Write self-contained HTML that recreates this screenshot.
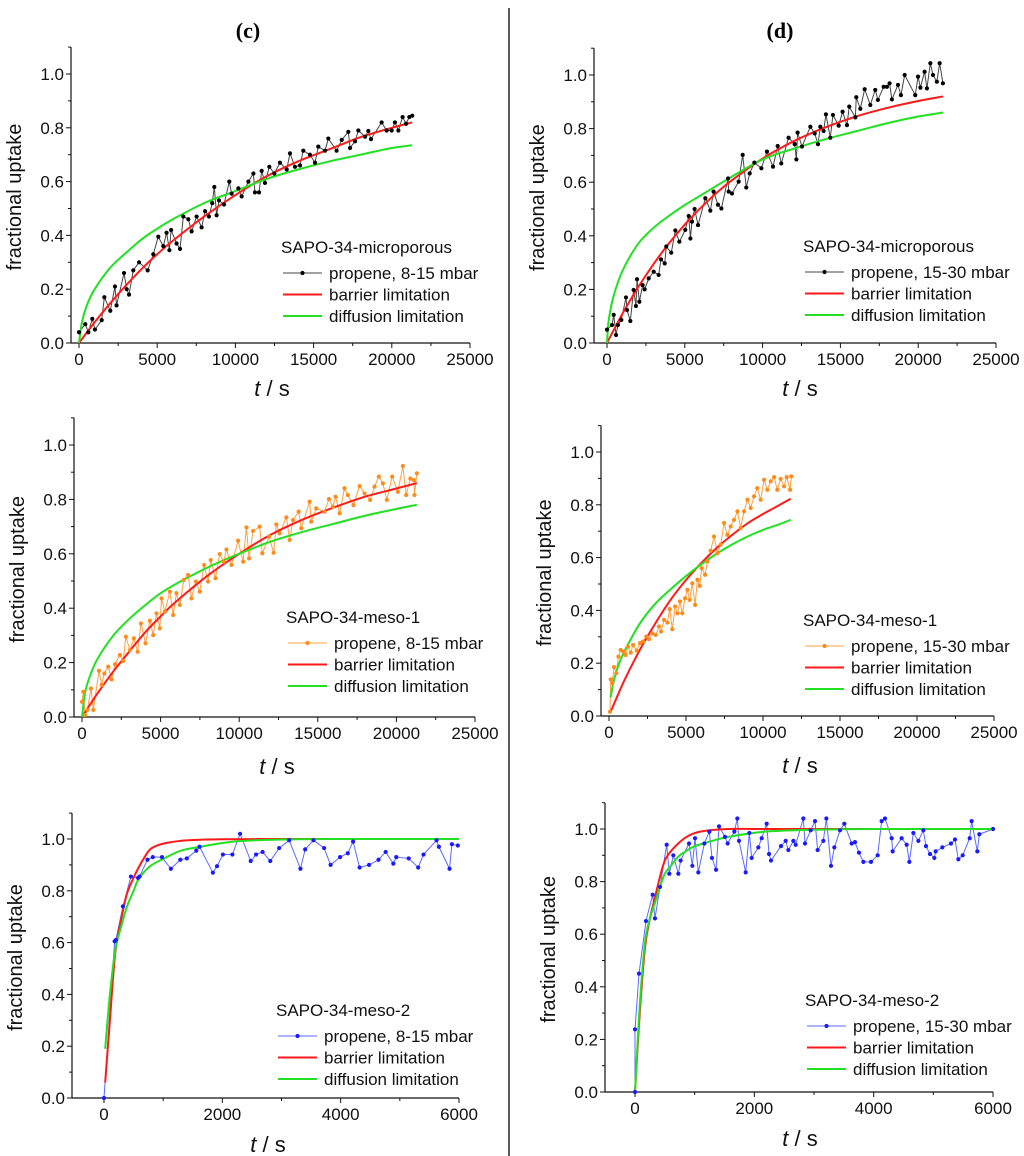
<!DOCTYPE html>
<html><head><meta charset="utf-8"><style>
html,body{margin:0;padding:0;background:#fff;}
svg{display:block;font-family:"Liberation Sans",Arial,sans-serif;}
</style></head><body>
<svg id="fig" width="1024" height="1156" viewBox="0 0 1024 1156">
<text x="248" y="38" text-anchor="middle" font-family="Liberation Serif,serif" font-weight="bold" font-size="22">(c)</text>
<text x="780" y="38" text-anchor="middle" font-family="Liberation Serif,serif" font-weight="bold" font-size="22">(d)</text>
<line x1="509" y1="8" x2="509" y2="1156" stroke="#222" stroke-width="1.5"/>
</svg>
<script>
// ---------- Panel c-top: SAPO-34-microporous 8-15 mbar ----------
const p1DataT=[0,400,600,850,1020,1450,1620,2000,2300,2400,2880,3050,3200,3470,3840,4390,4750,5070,5390,5600,5780,5890,6240,6460,6670,6990,7200,7520,7840,8060,8310,8520,8650,8800,8950,9270,9610,9760,10190,10400,10830,11150,11250,11510,11680,11890,12170,12490,12850,13280,13490,13810,14130,14340,14770,15090,15300,15730,15940,16470,16800,17220,17330,17650,17860,18290,18500,18670,19350,19670,19990,20200,20420,20690,20910,21120,21310];
const p1DataY=[0.04,0.07,0.04,0.09,0.05,0.085,0.17,0.12,0.21,0.14,0.26,0.2,0.18,0.27,0.3,0.27,0.33,0.395,0.36,0.41,0.345,0.42,0.37,0.35,0.47,0.46,0.415,0.47,0.43,0.49,0.47,0.52,0.58,0.475,0.53,0.515,0.6,0.555,0.575,0.545,0.6,0.63,0.56,0.56,0.64,0.595,0.655,0.63,0.67,0.645,0.705,0.655,0.66,0.715,0.7,0.67,0.73,0.715,0.76,0.715,0.755,0.785,0.725,0.75,0.79,0.767,0.788,0.758,0.82,0.79,0.79,0.82,0.79,0.84,0.815,0.84,0.845];
const p1RedT=[0,1000,2000,3000,4000,5000,6000,8000,10000,12000,14000,16000,18000,20000,21300];
const p1RedY=[0,0.077,0.148,0.214,0.275,0.33,0.38,0.47,0.55,0.62,0.675,0.72,0.765,0.8,0.82];
const p1GreenT=[0,200,500,1000,2000,3000,4000,5000,6000,8000,10000,12000,14000,16000,18000,20000,21300];
const p1GreenY=[0,0.08,0.14,0.2,0.28,0.335,0.385,0.425,0.46,0.52,0.565,0.61,0.645,0.675,0.7,0.725,0.735];

// ---------- Panel c-mid: SAPO-34-meso-1 8-15 mbar ----------
const p2DataT=[0,85,190,340,570,720,1080,1250,1420,1670,1880,2100,2410,2620,2790,3050,3300,3540,3750,4040,4320,4530,4740,4950,5060,5270,5590,5800,6010,6220,6480,6750,6960,7240,7490,7770,8020,8190,8490,8760,9020,9190,9510,9930,10250,10460,10630,10880,11300,11470,11900,12190,12360,12570,13000,13210,13420,13780,13950,14480,14580,14900,15430,15710,15960,16130,16390,16700,16910,17270,17660,17970,18330,18610,18880,19140,19390,19730,20090,20410,20620,20890,21110,21150,21300];
const p2DataY=[0.056,0.093,0.007,0.026,0.105,0.026,0.17,0.118,0.16,0.185,0.138,0.194,0.228,0.206,0.295,0.246,0.289,0.24,0.344,0.271,0.354,0.301,0.381,0.326,0.436,0.387,0.461,0.375,0.455,0.412,0.504,0.522,0.436,0.498,0.461,0.559,0.498,0.577,0.51,0.599,0.571,0.616,0.559,0.648,0.571,0.697,0.583,0.684,0.7,0.602,0.663,0.604,0.708,0.675,0.734,0.651,0.724,0.755,0.694,0.792,0.718,0.767,0.755,0.801,0.773,0.81,0.749,0.841,0.816,0.779,0.849,0.822,0.798,0.847,0.884,0.859,0.798,0.884,0.828,0.923,0.816,0.877,0.871,0.816,0.896];
const p2RedT=[0,1000,2000,3000,4000,5000,6000,8000,10000,12000,14000,16000,18000,20000,21300];
const p2RedY=[0,0.088,0.168,0.24,0.31,0.37,0.425,0.52,0.6,0.67,0.725,0.77,0.81,0.84,0.86];
const p2GreenT=[0,200,500,1000,2000,3000,4000,5000,6000,8000,10000,12000,14000,16000,18000,20000,21300];
const p2GreenY=[0,0.09,0.15,0.215,0.3,0.36,0.41,0.455,0.49,0.55,0.6,0.645,0.68,0.71,0.74,0.765,0.78];

// ---------- Panel c-bottom: SAPO-34-meso-2 8-15 mbar ----------
const p3DataT=[0,180,200,320,455,575,600,735,825,980,1130,1290,1400,1560,1615,1840,1910,2010,2170,2300,2480,2570,2680,2810,2960,3130,3320,3400,3540,3720,3830,3990,4120,4210,4320,4480,4640,4760,4890,4940,5150,5310,5400,5620,5660,5840,5880,5980];
const p3DataY=[0,0.605,0.61,0.74,0.855,0.85,0.855,0.92,0.93,0.93,0.885,0.92,0.925,0.955,0.97,0.87,0.895,0.94,0.94,1.02,0.915,0.94,0.95,0.915,0.965,0.995,0.885,0.96,0.995,0.965,0.9,0.93,0.945,0.99,0.89,0.9,0.92,0.95,0.905,0.93,0.925,0.89,0.94,0.995,0.97,0.885,0.98,0.975];
const p3RedT=[20,100,190,300,390,500,585,700,780,900,1060,1300,1625,2000,3000,4000,6000];
const p3RedY=[0.06,0.3,0.56,0.7,0.79,0.85,0.89,0.935,0.96,0.975,0.985,0.993,0.997,0.999,1,1,1];
const p3GreenT=[20,100,190,300,390,500,585,780,1060,1300,1625,2190,3000,4000,6000];
const p3GreenY=[0.19,0.4,0.57,0.67,0.74,0.8,0.845,0.895,0.93,0.955,0.97,0.99,0.998,1,1];

// ---------- Panel d-top: SAPO-34-microporous 15-30 mbar ----------
const p4DataT=[0,320,430,580,705,920,1220,1285,1500,1710,1860,1930,2080,2290,2420,2680,3000,3320,3470,3710,3810,4130,4390,4650,5030,5250,5360,5460,5630,5850,6320,6640,6850,7130,7350,7780,7820,8030,8460,8720,8950,9170,9470,9920,10280,10670,10970,11200,11670,12060,12170,12250,12530,13070,13350,13560,13710,13920,14070,14350,14520,14890,15140,15420,15570,15960,16020,16280,16560,16920,17240,17410,17780,17990,18160,18310,18700,18890,19130,19810,19990,20140,20410,20560,20780,20950,21200,21380,21590];
const p4DataY=[0.05,0.067,0.105,0.03,0.067,0.086,0.17,0.123,0.082,0.198,0.138,0.238,0.154,0.216,0.2,0.241,0.266,0.254,0.312,0.297,0.36,0.337,0.42,0.378,0.422,0.474,0.39,0.453,0.5,0.44,0.54,0.494,0.565,0.516,0.502,0.614,0.565,0.558,0.602,0.702,0.58,0.633,0.673,0.652,0.714,0.658,0.735,0.67,0.766,0.742,0.685,0.785,0.733,0.807,0.782,0.742,0.807,0.791,0.853,0.766,0.851,0.811,0.863,0.813,0.882,0.842,0.917,0.874,0.947,0.888,0.944,0.907,0.956,0.956,0.969,0.909,0.963,0.925,1.0,0.925,0.994,0.953,1.012,0.95,1.044,1.0,0.975,1.044,0.969];
const p4RedT=[0,1000,2000,3000,4000,5000,6000,7000,8000,10000,12000,14000,16000,18000,20000,21600];
const p4RedY=[0,0.11,0.208,0.295,0.373,0.442,0.503,0.558,0.606,0.688,0.753,0.804,0.845,0.877,0.903,0.92];
const p4GreenT=[0,100,400,1000,2000,3000,4000,5000,6000,8000,10000,12000,14000,16000,18000,20000,21600];
const p4GreenY=[0,0.08,0.17,0.27,0.37,0.43,0.475,0.515,0.55,0.62,0.685,0.725,0.76,0.79,0.82,0.845,0.86];

// ---------- Panel d-mid: SAPO-34-meso-1 15-30 mbar ----------
const p5DataT=[65,110,220,325,475,610,760,930,1080,1235,1410,1560,1800,2015,2210,2420,2600,2815,3030,3250,3380,3570,3790,3940,4110,4290,4440,4610,4760,4940,5090,5240,5410,5590,5740,5890,6020,6240,6390,6600,6820,7040,7250,7470,7690,7900,8120,8340,8550,8770,8990,9200,9420,9630,9850,10070,10280,10500,10720,10930,11150,11370,11540,11760,11840];
const p5DataY=[0.016,0.139,0.124,0.185,0.162,0.225,0.25,0.244,0.231,0.263,0.24,0.269,0.248,0.276,0.282,0.301,0.291,0.313,0.307,0.339,0.32,0.364,0.354,0.405,0.329,0.415,0.389,0.434,0.389,0.446,0.478,0.44,0.503,0.421,0.516,0.493,0.56,0.535,0.585,0.626,0.68,0.617,0.649,0.731,0.686,0.718,0.743,0.775,0.712,0.775,0.819,0.788,0.832,0.863,0.819,0.895,0.857,0.889,0.905,0.857,0.898,0.87,0.905,0.857,0.908];
const p5RedT=[100,1000,2000,3000,4000,5000,6000,7000,8000,9000,10000,11000,11800];
const p5RedY=[0.015,0.135,0.25,0.35,0.44,0.515,0.58,0.637,0.686,0.73,0.765,0.797,0.823];
const p5GreenT=[100,300,600,1000,2000,3000,4000,5000,6000,7000,8000,9000,10000,11000,11800];
const p5GreenY=[0.07,0.13,0.19,0.245,0.35,0.425,0.48,0.53,0.575,0.615,0.65,0.68,0.705,0.725,0.743];

// ---------- Panel d-bottom: SAPO-34-meso-2 15-30 mbar ----------
const p6DataT=[0,0,67,184,296,335,419,531,575,642,726,765,905,961,1006,1061,1162,1246,1290,1358,1408,1508,1553,1665,1715,1743,1855,1916,1955,2067,2123,2207,2246,2279,2447,2525,2570,2654,2693,2821,2849,2944,3017,3061,3156,3207,3285,3341,3436,3508,3631,3687,3754,3827,3955,4067,4134,4190,4302,4318,4469,4553,4598,4665,4749,4832,4877,4944,5017,5039,5151,5296,5363,5419,5492,5609,5642,5737,5771,6000];
const p6DataY=[0,0.238,0.45,0.65,0.75,0.66,0.78,0.94,0.83,0.9,0.83,0.88,0.945,0.86,0.965,0.835,0.945,0.99,0.89,0.845,1.01,0.97,0.945,0.99,1.04,0.955,0.835,0.985,0.89,0.93,0.965,1.02,0.905,0.88,0.935,0.955,0.92,0.955,0.94,1.04,0.945,0.995,1.03,0.92,0.955,1.04,0.86,0.93,0.995,1.02,0.945,0.95,0.91,0.875,0.875,0.9,1.03,1.04,0.965,0.915,0.965,0.94,0.875,0.985,0.955,0.995,0.935,0.905,0.89,0.915,0.93,0.945,0.96,0.885,0.9,0.965,1.03,0.915,0.98,1.0];
const p6RedT=[0,80,168,250,335,420,500,600,725,850,1005,1200,1565,2000,3000,6000];
const p6RedY=[0,0.3,0.55,0.66,0.74,0.82,0.88,0.915,0.945,0.968,0.985,0.994,1.0,1,1,1];
const p6GreenT=[0,80,168,250,335,420,500,600,725,850,1005,1300,1565,2180,3000,4000,6000];
const p6GreenY=[0,0.33,0.57,0.66,0.72,0.78,0.83,0.86,0.895,0.915,0.935,0.955,0.97,0.99,0.997,1,1];

const yTicks=[0,0.2,0.4,0.6,0.8,1.0];
const yTickLabels=["0.0","0.2","0.4","0.6","0.8","1.0"];
const xTicksLong=[0,5000,10000,15000,20000,25000];
const xTicksShort=[0,2000,4000,6000];

const NS='http://www.w3.org/2000/svg';
const svg=document.getElementById('fig');
function mk(tag,attrs,parent){const e=document.createElementNS(NS,tag);for(const k in attrs)e.setAttribute(k,attrs[k]);(parent||svg).appendChild(e);return e;}

function smoothPath(pts){
  let d='M'+pts[0][0].toFixed(2)+','+pts[0][1].toFixed(2);
  for(let i=0;i<pts.length-1;i++){
    const p0=pts[Math.max(i-1,0)],p1=pts[i],p2=pts[i+1],p3=pts[Math.min(i+2,pts.length-1)];
    const c1x=p1[0]+(p2[0]-p0[0])/6,c1y=p1[1]+(p2[1]-p0[1])/6;
    const c2x=p2[0]-(p3[0]-p1[0])/6,c2y=p2[1]-(p3[1]-p1[1])/6;
    d+='C'+c1x.toFixed(2)+','+c1y.toFixed(2)+' '+c2x.toFixed(2)+','+c2y.toFixed(2)+' '+p2[0].toFixed(2)+','+p2[1].toFixed(2);
  }
  return d;
}

function panel(c){
  const g=mk('g',{});
  
  
  const xs=v=>c.px0+(v-0)*(c.px1-c.px0)/(c.xmaxTick);
  const ys=v=>c.py0-(v)*(c.py0-c.py1);
  const xLeft=c.ax, xRight=c.px1, yTop=ys(1.1), yBot=c.py0;
  const ya=mk('line',{x1:xLeft,y1:yTop,x2:xLeft,y2:yBot,stroke:'#111','stroke-width':1.2},g);
  
  
  const xa=mk('line',{x1:xLeft,y1:yBot,x2:xRight,y2:yBot,stroke:'#111','stroke-width':1.2},g);
  
  
  for(let i=0;i<yTicks.length;i++){
    const y=ys(yTicks[i]);
    mk('line',{x1:xLeft-5,y1:y,x2:xLeft,y2:y,stroke:'#111','stroke-width':1},g);
    const t=mk('text',{x:xLeft-7,y:y+6,'text-anchor':'end','font-size':17,fill:'#111'},g);
    t.textContent=yTickLabels[i];
    
    
    const ym=ys(yTicks[i]+0.1);
    mk('line',{x1:xLeft-3,y1:ym,x2:xLeft,y2:ym,stroke:'#111','stroke-width':1},g);
  }
  const xt=c.xTicks, step=xt[1]-xt[0];
  for(let i=0;i<xt.length;i++){
    const x=xs(xt[i]);
    mk('line',{x1:x,y1:yBot,x2:x,y2:yBot+5,stroke:'#111','stroke-width':1},g);
    const t=mk('text',{x:x,y:yBot+22,'text-anchor':'middle','font-size':17,fill:'#111'},g);
    t.textContent=String(xt[i]);
    
    
    const xm=xs(xt[i]-step/2);
    if(xm>xLeft+1) mk('line',{x1:xm,y1:yBot,x2:xm,y2:yBot+3,stroke:'#111','stroke-width':1},g);
  }
  const yt=mk('text',{x:0,y:0,'text-anchor':'middle','font-size':20,fill:'#111',transform:'translate('+(c.ax-50)+','+((yTop+yBot)/2+2)+') rotate(-90)'},g);
  yt.textContent='fractional uptake';
  
  
  const xtl=mk('text',{x:c.xlabX,y:c.xlabY,'text-anchor':'middle','font-size':22,fill:'#111','xml:space':'preserve'},g);
  xtl.innerHTML='<tspan font-style="italic">t</tspan>  /   s';
  
  
  const pts=c.dT.map((t,i)=>[xs(t),ys(c.dY[i])]);
  const dl=mk('polyline',{points:pts.map(p=>p[0].toFixed(2)+','+p[1].toFixed(2)).join(' '),fill:'none',stroke:c.lineColor,'stroke-width':1},g);
  
  
  const rp=mk('path',{d:smoothPath(c.rT.map((t,i)=>[xs(t),ys(c.rY[i])])),fill:'none',stroke:'#ff1a1a','stroke-width':2},g);
  
  
  const gp=mk('path',{d:smoothPath(c.gT.map((t,i)=>[xs(t),ys(c.gY[i])])),fill:'none',stroke:'#22e022','stroke-width':2},g);
  
  
  for(const p of pts){
    const m=mk('circle',{cx:p[0].toFixed(2),cy:p[1].toFixed(2),r:2.1,fill:c.markColor},g);
    
    
  }
  const lg=mk('g',{},g);
  
  
  const lt=mk('text',{x:c.lx-2,y:c.ly+6,'font-size':17,fill:'#111'},lg);
  lt.textContent=c.title;
  
  
  const ent=[[c.lineColor,1,c.series],['#ff1a1a',2,'barrier limitation'],['#22e022',2,'diffusion limitation']];
  ent.forEach((e,i)=>{
    const y=c.ly+26+i*21.5;
    mk('line',{x1:c.lx,y1:y,x2:c.lx+39,y2:y,stroke:e[0],'stroke-width':e[1]},lg);
    if(i===0) mk('circle',{cx:c.lx+19.5,cy:y,r:2.1,fill:c.markColor},lg);
    const t=mk('text',{x:c.lx+46,y:y+6,'font-size':17,fill:'#111'},lg);
    t.textContent=e[2];
    
    
  });
}

panel({name:'panel-c-microporous',ax:71,px0:79,px1:470,xmaxTick:25000,py0:343,py1:74,xTicks:xTicksLong,xlabX:272,xlabY:396,
  dT:p1DataT,dY:p1DataY,rT:p1RedT,rY:p1RedY,gT:p1GreenT,gY:p1GreenY,lineColor:'#444',markColor:'#000',
  lx:283,ly:247,title:'SAPO-34-microporous',series:'propene, 8-15 mbar'});
panel({name:'panel-c-meso1',ax:74,px0:82,px1:475,xmaxTick:25000,py0:717,py1:445,xTicks:xTicksLong,xlabX:277,xlabY:774,
  dT:p2DataT,dY:p2DataY,rT:p2RedT,rY:p2RedY,gT:p2GreenT,gY:p2GreenY,lineColor:'#ffa040',markColor:'#ff8c1a',
  lx:288,ly:617,title:'SAPO-34-meso-1',series:'propene, 8-15 mbar'});
panel({name:'panel-c-meso2',ax:72,px0:104,px1:459,xmaxTick:6000,py0:1098,py1:839,xTicks:xTicksShort,xlabX:268,xlabY:1152,
  dT:p3DataT,dY:p3DataY,rT:p3RedT,rY:p3RedY,gT:p3GreenT,gY:p3GreenY,lineColor:'#5a6aff',markColor:'#1a1aff',
  lx:278,ly:1010,title:'SAPO-34-meso-2',series:'propene, 8-15 mbar'});
panel({name:'panel-d-microporous',ax:594,px0:607,px1:996,xmaxTick:25000,py0:343,py1:75,xTicks:xTicksLong,xlabX:800,xlabY:396,
  dT:p4DataT,dY:p4DataY,rT:p4RedT,rY:p4RedY,gT:p4GreenT,gY:p4GreenY,lineColor:'#444',markColor:'#000',
  lx:805,ly:246,title:'SAPO-34-microporous',series:'propene, 15-30 mbar'});
panel({name:'panel-d-meso1',ax:601,px0:609,px1:994,xmaxTick:25000,py0:716,py1:452,xTicks:xTicksLong,xlabX:800,xlabY:773,
  dT:p5DataT,dY:p5DataY,rT:p5RedT,rY:p5RedY,gT:p5GreenT,gY:p5GreenY,lineColor:'#ffa040',markColor:'#ff8c1a',
  lx:805,ly:620,title:'SAPO-34-meso-1',series:'propene, 15-30 mbar'});
panel({name:'panel-d-meso2',ax:605,px0:635,px1:993,xmaxTick:6000,py0:1092,py1:829,xTicks:xTicksShort,xlabX:800,xlabY:1146,
  dT:p6DataT,dY:p6DataY,rT:p6RedT,rY:p6RedY,gT:p6GreenT,gY:p6GreenY,lineColor:'#5a6aff',markColor:'#1a1aff',
  lx:807,ly:1000,title:'SAPO-34-meso-2',series:'propene, 15-30 mbar'});
</script>
</body></html>
